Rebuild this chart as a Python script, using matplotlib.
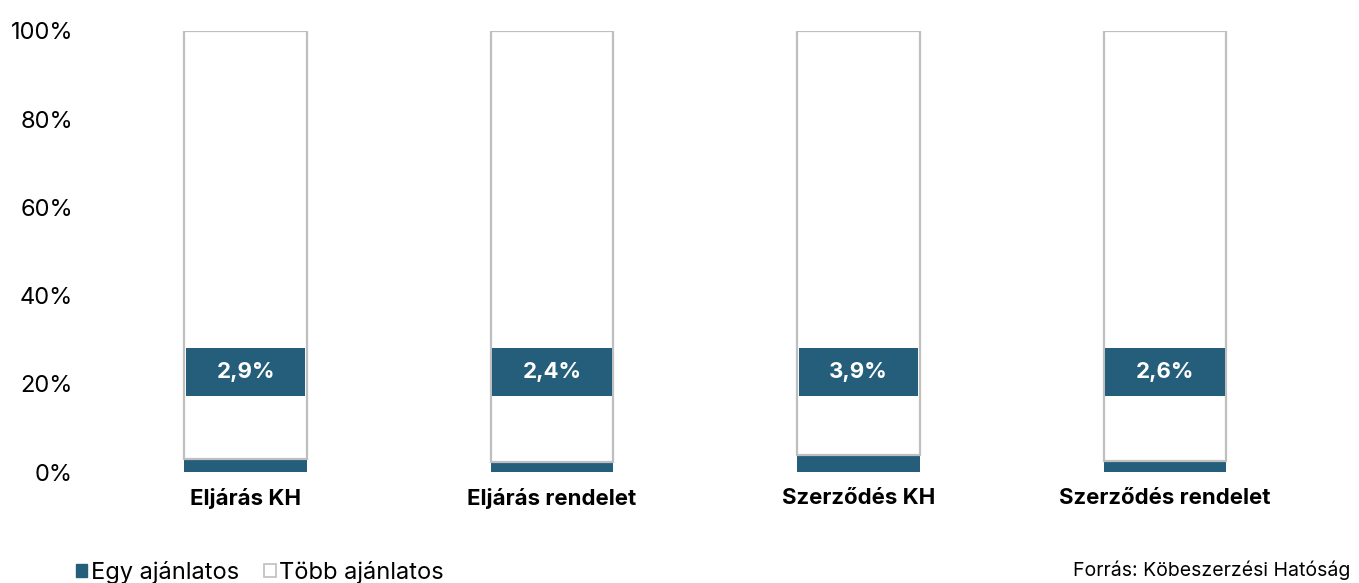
import matplotlib.pyplot as plt
import numpy as np
from matplotlib.patches import Patch

plt.rcParams["font.family"] = ["Inter", "DejaVu Sans"]

categories = ["Eljárás KH", "Eljárás rendelet", "Szerződés KH", "Szerződés rendelet"]
egy_ajanlatos = [2.9, 2.4, 3.9, 2.6]
tobb_ajanlatos = [100 - v for v in egy_ajanlatos]
value_labels = ["2,9%", "2,4%", "3,9%", "2,6%"]

dark = "#245E7B"
edge = "#BFBFBF"

fig = plt.figure(figsize=(13.59, 5.83), dpi=100)
ax = fig.add_axes([0.068, 0.19, 0.902, 0.757])

x = np.arange(len(categories))
width = 0.4
ax.bar(x, egy_ajanlatos, width, color=dark, linewidth=0)
ax.bar(x, tobb_ajanlatos, width, bottom=egy_ajanlatos, color="white",
       edgecolor=edge, linewidth=1.6)

# label boxes spanning the bar width, value text on top
for xi, lab in zip(x, value_labels):
    ax.add_patch(plt.Rectangle((xi - width / 2 + 0.005, 17.2), width - 0.01, 10.9,
                               facecolor=dark, edgecolor="none", zorder=2.5))
    ax.text(xi, 22.6, lab, ha="center", va="center", color="white",
            fontsize=16, fontweight="bold", zorder=3)

ax.set_xlim(-0.5, len(categories) - 0.5)
ax.set_ylim(0, 100)
ax.set_yticks(np.arange(0, 101, 20))
ax.set_yticklabels([f"{v}%" for v in range(0, 101, 20)], fontsize=17)
ax.set_xticks(x)
ax.set_xticklabels(categories, fontsize=16, fontweight="bold")
ax.tick_params(axis="both", length=0)
ax.tick_params(axis="x", pad=11)
ax.tick_params(axis="y", pad=14)
for s in ax.spines.values():
    s.set_visible(False)

handles = [Patch(facecolor=dark, edgecolor=dark),
           Patch(facecolor="white", edgecolor=edge, linewidth=1.2)]
fig.legend(handles, ["Egy ajánlatos", "Több ajánlatos"], loc="lower left",
           bbox_to_anchor=(0.040, -0.038), ncol=2, frameon=False, fontsize=17,
           handlelength=0.5, handleheight=0.5, handletextpad=0.15,
           columnspacing=1.05)

fig.text(0.994, 0.005, "Forrás: Köbeszerzési Hatóság", ha="right", va="bottom",
         fontsize=14)

fig.savefig("out.png", dpi=100)
